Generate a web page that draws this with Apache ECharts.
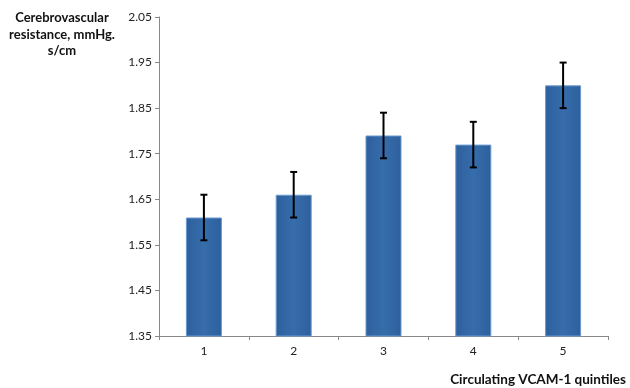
<!DOCTYPE html>
<html><head><meta charset="utf-8">
<script src="https://cdn.jsdelivr.net/npm/echarts@6/dist/echarts.min.js"></script>
<style>html,body{margin:0;padding:0;background:#fff}#c{width:630px;height:388px}</style>
</head><body><div id="c"></div>
<script>
var categories = ['1', '2', '3', '4', '5'];
var values = [1.61, 1.66, 1.79, 1.77, 1.90];
var errLow = [1.56, 1.61, 1.74, 1.72, 1.85];
var errHigh = [1.66, 1.71, 1.84, 1.82, 1.95];
var yTicks = [1.35, 1.45, 1.55, 1.65, 1.75, 1.85, 1.95, 2.05];

var chart = echarts.init(document.getElementById('c'));
var font = 'Lato, "Open Sans", sans-serif';
chart.setOption({
  animation: false,
  grid: {left: 159, right: 22, top: 17, bottom: 52},
  xAxis: {
    type: 'category', data: categories,
    axisLine: {lineStyle: {color: '#888', width: 1}},
    axisTick: {show: true, length: 4, lineStyle: {color: '#888'}},
    axisLabel: {color: '#222', fontSize: 12, fontFamily: font, margin: 9}
  },
  yAxis: {
    type: 'value', min: yTicks[0], max: yTicks[yTicks.length - 1], interval: 0.1,
    axisLine: {show: true, lineStyle: {color: '#888', width: 1}},
    axisTick: {show: true, length: 4, lineStyle: {color: '#888'}},
    splitLine: {show: false},
    axisLabel: {color: '#222', fontSize: 12, fontFamily: font, margin: 7,
      formatter: function (v) { return v.toFixed(2); }}
  },
  graphic: [
    {type: 'text', x: 62, y: 10, style: {text: 'Cerebrovascular\nresistance, mmHg.\ns/cm',
      align: 'center', font: 'bold 13px ' + font, fill: '#111', lineHeight: 16.5}},
    {type: 'text', x: 626, y: 373, style: {text: 'Circulating VCAM-1 quintiles', align: 'right',
      font: 'bold 13.5px ' + font, fill: '#111'}}
  ],
  series: [
    {
      type: 'bar', data: values, barWidth: 36,
      itemStyle: {
        color: {type: 'linear', x: 0, y: 0, x2: 1, y2: 0, colorStops: [
          {offset: 0, color: '#2d5f9c'}, {offset: 0.5, color: '#376dac'}, {offset: 1, color: '#2d5f9c'}]},
        borderColor: '#6a9ad0', borderWidth: 1
      }
    },
    {
      type: 'custom',
      data: categories.map(function (c, i) { return [i, errLow[i], errHigh[i]]; }),
      renderItem: function (params, api) {
        var lo = api.coord([api.value(0), api.value(1)]);
        var hi = api.coord([api.value(0), api.value(2)]);
        var hw = 3.5;
        var st = {stroke: '#000', lineWidth: 2};
        return {type: 'group', children: [
          {type: 'line', shape: {x1: lo[0], y1: lo[1], x2: hi[0], y2: hi[1]}, style: st},
          {type: 'line', shape: {x1: lo[0] - hw, y1: lo[1], x2: lo[0] + hw, y2: lo[1]}, style: st},
          {type: 'line', shape: {x1: hi[0] - hw, y1: hi[1], x2: hi[0] + hw, y2: hi[1]}, style: st}
        ]};
      },
      z: 10
    }
  ]
});
</script></body></html>
